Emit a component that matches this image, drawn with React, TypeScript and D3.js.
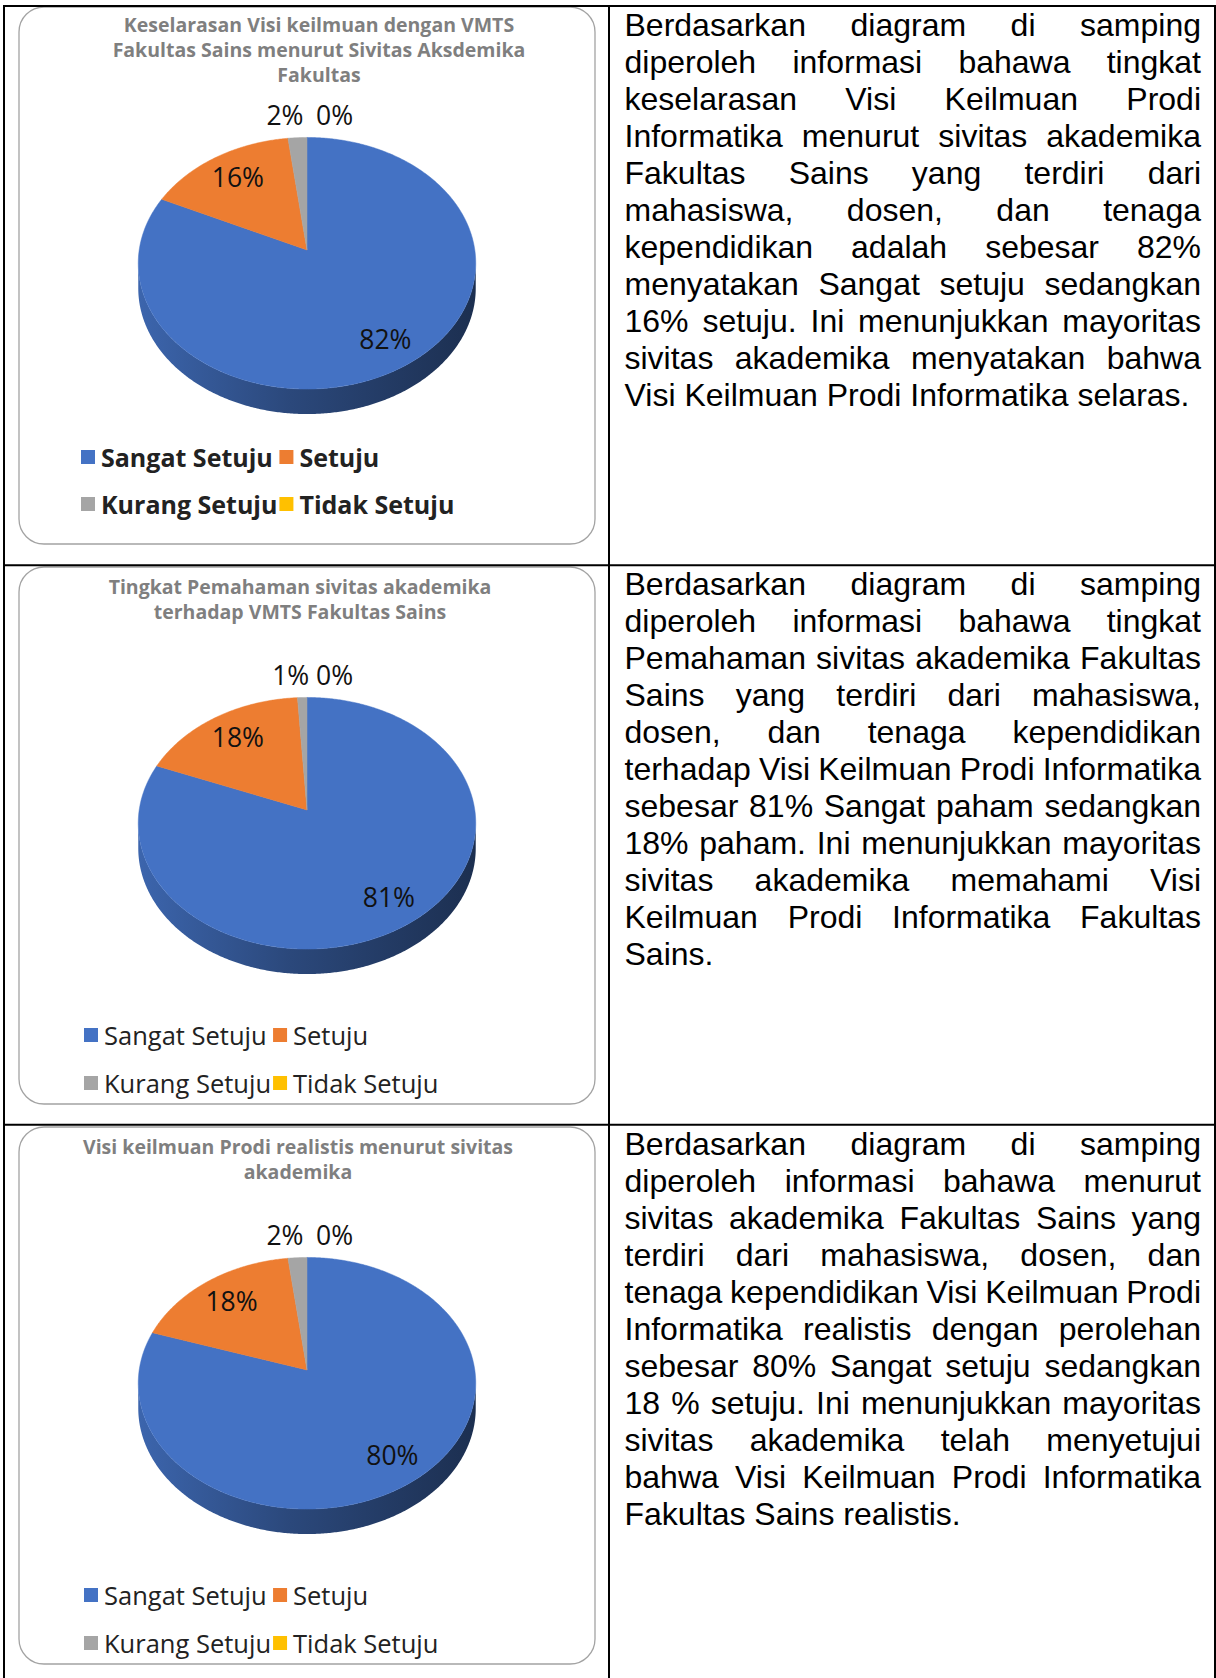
import React from 'react';
import * as d3 from 'd3';

// legend categories and colours (Office palette)
const categories = ['Sangat Setuju', 'Setuju', 'Kurang Setuju', 'Tidak Setuju'];
const sliceColors = ['#4472C4', '#ED7D31', '#A5A5A5', '#FFC000'];

// percentages
const keselarasanValues = [82, 16, 2, 0];
const pemahamanValues = [81, 18, 1, 0];
const realistisValues = [80, 18, 2, 0];

const keselarasanTitle = [
  'Keselarasan Visi keilmuan dengan VMTS',
  'Fakultas Sains menurut Sivitas Aksdemika',
  'Fakultas',
];
const pemahamanTitle = ['Tingkat Pemahaman sivitas akademika', 'terhadap VMTS Fakultas Sains'];
const realistisTitle = ['Visi keilmuan Prodi realistis menurut sivitas', 'akademika'];

const keselarasanText = [
  'Berdasarkan diagram di samping',
  'diperoleh informasi bahawa tingkat',
  'keselarasan Visi Keilmuan Prodi',
  'Informatika menurut sivitas akademika',
  'Fakultas Sains yang terdiri dari',
  'mahasiswa, dosen, dan tenaga',
  'kependidikan adalah sebesar 82%',
  'menyatakan Sangat setuju sedangkan',
  '16% setuju. Ini menunjukkan mayoritas',
  'sivitas akademika menyatakan bahwa',
  'Visi Keilmuan Prodi Informatika selaras.',
];
const pemahamanText = [
  'Berdasarkan diagram di samping',
  'diperoleh informasi bahawa tingkat',
  'Pemahaman sivitas akademika Fakultas',
  'Sains yang terdiri dari mahasiswa,',
  'dosen, dan tenaga kependidikan',
  'terhadap Visi Keilmuan Prodi Informatika',
  'sebesar 81% Sangat paham sedangkan',
  '18% paham. Ini menunjukkan mayoritas',
  'sivitas akademika memahami Visi',
  'Keilmuan Prodi Informatika Fakultas',
  'Sains.',
];
const realistisText = [
  'Berdasarkan diagram di samping',
  'diperoleh informasi bahawa menurut',
  'sivitas akademika Fakultas Sains yang',
  'terdiri dari mahasiswa, dosen, dan',
  'tenaga kependidikan Visi Keilmuan Prodi',
  'Informatika realistis dengan perolehan',
  'sebesar 80% Sangat setuju sedangkan',
  '18 % setuju. Ini menunjukkan mayoritas',
  'sivitas akademika telah menyetujui',
  'bahwa Visi Keilmuan Prodi Informatika',
  'Fakultas Sains realistis.',
];

// page / table layout
const W = 1216;
const H = 1678;
const colX = 609;
const rowTops = [6, 565.3, 1124.7];
const textLeft = 624.5;
const textRight = 1201;
const lineHeight = 37;
const textFont = '32px "Liberation Sans"';

// chart card layout
const boxX = 19;
const boxW = 576;
const boxH = 537;
const boxTops = [7, 567, 1127];
const titleCenters = [319, 300, 298];
const titleFirstBaseline = [25, 27, 27];
const legendStarts = [81, 84, 84];
const legendRows = [[450, 497], [468, 516], [468, 516]];

// 3d pie geometry (perspective tilted disk)
const pieCx = 307;
const pieApex = 243;
const pieA = 167.8;
const pieB = 124.4;
const persp = 0.1054;
const depth = 25;

const chartFont = '"Open Sans", sans-serif';
const labelSize = 26.5;

const measureCtx = document.createElement('canvas').getContext('2d');
const textWidth = (s: string, font: string) => {
  measureCtx!.font = font;
  return measureCtx!.measureText(s).width;
};

const project = (cy: number, r: number, theta: number): [number, number] => {
  const u = r * Math.sin(theta);
  const v = r * Math.cos(theta);
  const d = 1 + persp * v;
  return [pieCx + (pieA * u) / d, cy - (pieB * v) / d];
};

const sampleRim = (cy: number, a0: number, a1: number, dy = 0) => {
  const n = Math.max(2, Math.ceil((a1 - a0) / (Math.PI / 360)));
  return d3.range(n + 1).map(i => {
    const p = project(cy, 1, a0 + ((a1 - a0) * i) / n);
    return [p[0], p[1] + dy] as [number, number];
  });
};

const line = d3.line();

function PieCard({ idx, values, title, boldLegend }: { idx: number; values: number[]; title: string[]; boldLegend: boolean }) {
  const top = boxTops[idx];
  const cy = top + pieApex;
  const arcs = d3.pie<number>().sort(null).value(d => d)(values);
  const total = d3.sum(values);
  const thR = Math.acos(-persp);
  const thL = 2 * Math.PI - thR;

  const legendSize = boldLegend ? 25 : 25.5;
  const legendFont = `${boldLegend ? 'bold ' : ''}${legendSize}px "Open Sans"`;
  const col1W = Math.max(textWidth(categories[0], legendFont), textWidth(categories[2], legendFont));
  const sw = 14;
  const x1 = legendStarts[idx];
  const x2 = x1 + sw + 6 + col1W + 2;

  return (
    <g>
      <defs>
        {arcs.map((a, i) => {
          const c = d3.color(sliceColors[i])!;
          return (
            <linearGradient key={i} id={`side-${idx}-${i}`} gradientUnits="userSpaceOnUse"
              x1={pieCx - pieA * 1.006} x2={pieCx + pieA * 1.006} y1={0} y2={0}>
              <stop offset="0" stopColor={c.darker(0.35).formatHex()} />
              <stop offset="0.45" stopColor={c.darker(1.3).formatHex()} />
              <stop offset="1" stopColor={c.darker(2.5).formatHex()} />
            </linearGradient>
          );
        })}
      </defs>
      <rect x={boxX} y={top} width={boxW} height={boxH} rx={25} ry={25} fill="#fff" stroke="#a3a3a3" strokeWidth={1.3} />
      {title.map((t, i) => (
        <text key={i} x={titleCenters[idx]} y={top + titleFirstBaseline[idx] + i * 25} textAnchor="middle"
          fontFamily={chartFont} fontWeight="bold" fontSize={19.5} fill="#7f7f7f">{t}</text>
      ))}
      {/* side walls of the front half */}
      {arcs.map((a, i) => {
        const s = Math.max(a.startAngle, thR);
        const e = Math.min(a.endAngle, thL);
        if (e <= s) return null;
        const pts = sampleRim(cy, s, e).concat(sampleRim(cy, s, e, depth).reverse());
        return <path key={i} d={line(pts) + 'Z'} fill={`url(#side-${idx}-${i})`} />;
      })}
      {/* top face */}
      {arcs.map((a, i) => {
        if (a.endAngle - a.startAngle <= 0) return null;
        const pts = [[pieCx, cy] as [number, number]].concat(sampleRim(cy, a.startAngle, a.endAngle));
        return <path key={i} d={line(pts) + 'Z'} fill={sliceColors[i]} stroke={sliceColors[i]} strokeWidth={0.5} />;
      })}
      {arcs.map((a, i) => {
        const mid = (a.startAngle + a.endAngle) / 2;
        const share = a.value / total;
        if (share >= 0.05) {
          const p = project(cy, 0.78, mid);
          return (
            <text key={i} x={p[0] + 3} y={p[1] + 1} textAnchor="middle" dominantBaseline="central"
              fontFamily={chartFont} fontSize={labelSize} fill="#111">{`${a.value}%`}</text>
          );
        }
        const p = project(cy, 1.23, mid);
        const left = Math.sin(mid) < -1e-9;
        return (
          <text key={i} x={p[0] + (left ? 8 : 9)} y={p[1]} textAnchor={left ? 'end' : 'start'} dominantBaseline="central"
            fontFamily={chartFont} fontSize={labelSize} fill="#111">{`${a.value}%`}</text>
        );
      })}
      {categories.map((c, i) => {
        const x = i % 2 === 0 ? x1 : x2;
        const y = top + legendRows[idx][Math.floor(i / 2)];
        return (
          <g key={c}>
            <rect x={x} y={y - sw / 2} width={sw} height={sw} fill={sliceColors[i]} />
            <text x={x + sw + 6} y={y} dominantBaseline="central" fontFamily={chartFont}
              fontWeight={boldLegend ? 'bold' : 'normal'} fontSize={legendSize} fill="#222">{c}</text>
          </g>
        );
      })}
    </g>
  );
}

function Paragraph({ lines, rowTop }: { lines: string[]; rowTop: number }) {
  return (
    <g fontFamily='"Liberation Sans", Arial, sans-serif' fontSize={32} fill="#000">
      {lines.map((ln, li) => {
        const y = rowTop + 30 + li * lineHeight;
        const words = ln.split(' ');
        if (li === lines.length - 1 || words.length < 2) {
          return <text key={li} x={textLeft} y={y}>{ln}</text>;
        }
        const widths = words.map(w => textWidth(w, textFont));
        const gap = (textRight - textLeft - d3.sum(widths)) / (words.length - 1);
        let x = textLeft;
        return (
          <text key={li} y={y}>
            {words.map((w, wi) => {
              const el = <tspan key={wi} x={x}>{w}</tspan>;
              x += widths[wi] + gap;
              return el;
            })}
          </text>
        );
      })}
    </g>
  );
}

export default function App() {
  const charts = [
    { values: keselarasanValues, title: keselarasanTitle, text: keselarasanText, bold: true },
    { values: pemahamanValues, title: pemahamanTitle, text: pemahamanText, bold: false },
    { values: realistisValues, title: realistisTitle, text: realistisText, bold: false },
  ];
  return (
    <div style={{ position: 'absolute', left: 0, top: 0 }}>
      <svg width={W} height={H} style={{ display: 'block', background: '#fff' }}>
        <rect width={W} height={H} fill="#fff" />
        {charts.map((c, i) => (
          <g key={i}>
            <PieCard idx={i} values={c.values} title={c.title} boldLegend={c.bold} />
            <Paragraph lines={c.text} rowTop={rowTops[i]} />
          </g>
        ))}
        {/* table rules */}
        <g stroke="#000" strokeWidth={2}>
          <line x1={3} x2={W} y1={6} y2={6} />
          <line x1={4} x2={4} y1={5} y2={H} />
          <line x1={1215} x2={1215} y1={5} y2={H} />
          <line x1={colX} x2={colX} y1={5} y2={H} />
          <line x1={3} x2={W} y1={rowTops[1]} y2={rowTops[1]} />
          <line x1={3} x2={W} y1={rowTops[2]} y2={rowTops[2]} />
        </g>
      </svg>
    </div>
  );
}
